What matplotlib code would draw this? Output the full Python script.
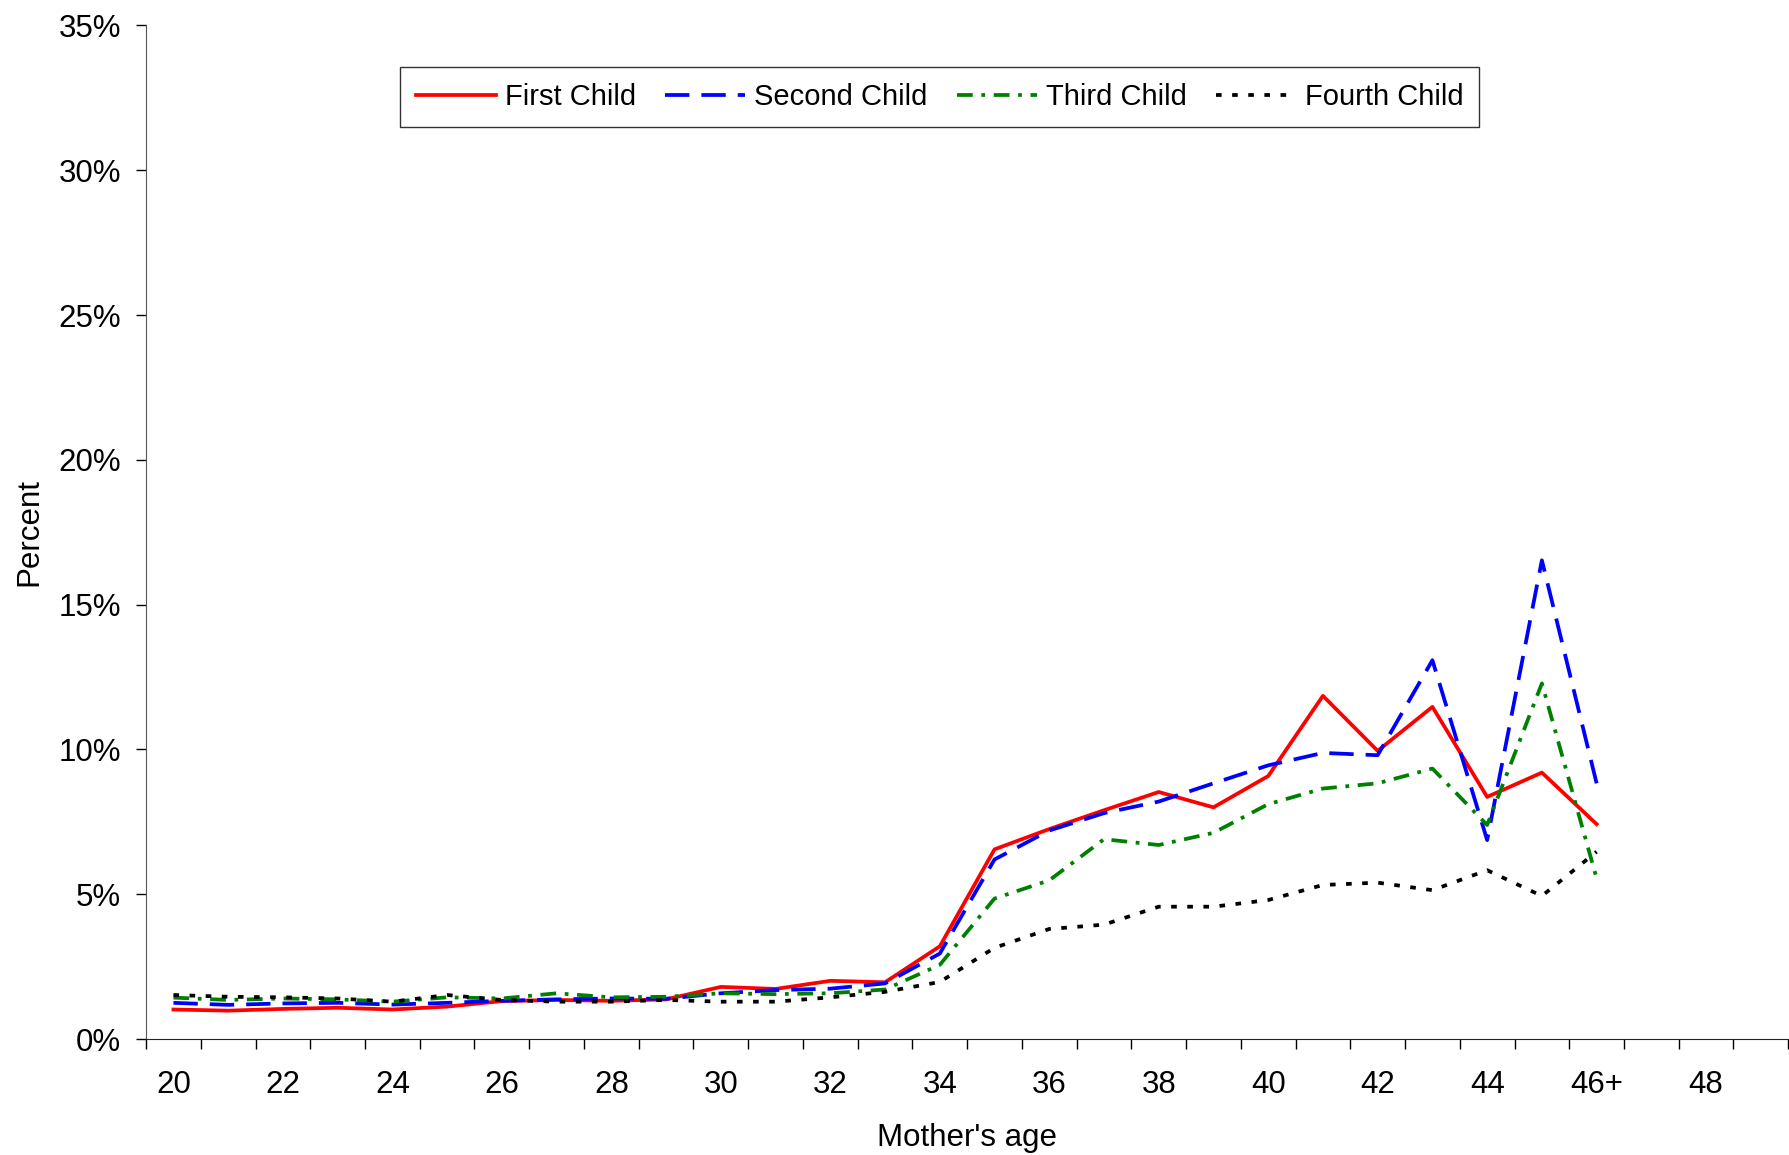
import matplotlib
matplotlib.use("Agg")
import matplotlib.pyplot as plt
from matplotlib.ticker import FixedLocator, PercentFormatter

plt.rcParams["font.family"] = ["Liberation Sans", "DejaVu Sans"]

# --- Data (percent) ---
categories = [str(a) for a in range(20, 46)] + ["46+", "47", "48", "49"]
tick_labels = ["20", "22", "24", "26", "28", "30", "32", "34", "36", "38",
               "40", "42", "44", "46+", "48"]

first_child = [1.02, 0.98, 1.04, 1.08, 1.02, 1.12, 1.31, 1.35, 1.32, 1.37,
               1.80, 1.73, 2.01, 1.96, 3.20, 6.55, 7.25, 7.90, 8.53, 8.00,
               9.08, 11.85, 9.95, 11.47, 8.36, 9.20, 7.42]
second_child = [1.25, 1.18, 1.23, 1.25, 1.19, 1.25, 1.32, 1.37, 1.40, 1.39,
                1.58, 1.69, 1.74, 1.92, 2.95, 6.20, 7.20, 7.80, 8.20, 8.83,
                9.45, 9.88, 9.80, 13.08, 6.87, 16.53, 8.83]
third_child = [1.43, 1.35, 1.40, 1.37, 1.29, 1.44, 1.40, 1.58, 1.44, 1.46,
               1.58, 1.55, 1.58, 1.71, 2.56, 4.85, 5.48, 6.90, 6.70, 7.12,
               8.11, 8.65, 8.83, 9.34, 7.39, 12.28, 5.55]
fourth_child = [1.52, 1.46, 1.44, 1.40, 1.29, 1.52, 1.35, 1.29, 1.29, 1.35,
                1.29, 1.29, 1.44, 1.63, 1.97, 3.15, 3.80, 3.95, 4.57, 4.57,
                4.80, 5.32, 5.40, 5.14, 5.83, 4.94, 6.47]

x = list(range(len(first_child)))

fig = plt.figure(figsize=(17.9, 11.55), dpi=100)
ax = fig.add_axes([0.0816, 0.1004, 0.9174, 0.8776])

lw = 2.7
ax.plot(x, first_child, color="#FF0000", linewidth=lw, label="First Child")
ax.plot(x, second_child, color="#0000FF", linewidth=lw, dashes=(6.5, 3.2), label="Second Child")
ax.plot(x, third_child, color="#008000", linewidth=lw, dashes=(4.2, 2.3, 1, 2.3), label="Third Child")
ax.plot(x, fourth_child, color="black", linewidth=lw, dashes=(1.5, 2.8), label="Fourth Child")

ax.set_xlim(-0.5, len(categories) - 0.5)
ax.set_ylim(0, 35)
ax.set_yticks(range(0, 36, 5))
ax.yaxis.set_major_formatter(PercentFormatter(decimals=0))

# category boundaries as tick marks, labels centred on every other category
ax.xaxis.set_major_locator(FixedLocator([i - 0.5 for i in range(len(categories) + 1)]))
ax.xaxis.set_major_formatter(plt.NullFormatter())
ax.xaxis.set_minor_locator(FixedLocator([categories.index(t) for t in tick_labels]))
ax.set_xticklabels(tick_labels, minor=True)
ax.tick_params(axis="x", which="major", length=7, width=1, direction="out")
ax.tick_params(axis="x", which="minor", length=0, pad=22, labelsize=22.5)
ax.tick_params(axis="y", length=7, width=1, direction="out", pad=11, labelsize=22.5)

for side in ["top", "right"]:
    ax.spines[side].set_visible(False)
ax.spines["left"].set_color("#555555")
ax.spines["bottom"].set_color("#222222")

ax.set_xlabel("Mother's age", fontsize=22.5, labelpad=17)
ax.set_ylabel("Percent", fontsize=22.5, labelpad=10)

leg = ax.legend(loc="upper left", bbox_to_anchor=(0.1545, 0.9586), ncol=4,
                fontsize=21, frameon=True, fancybox=False, handlelength=2.75,
                handletextpad=0.3, columnspacing=1.0, borderpad=0.55,
                borderaxespad=0)
leg.get_frame().set_edgecolor("black")
leg.get_frame().set_linewidth(1)

fig.savefig("out.png", dpi=100)
